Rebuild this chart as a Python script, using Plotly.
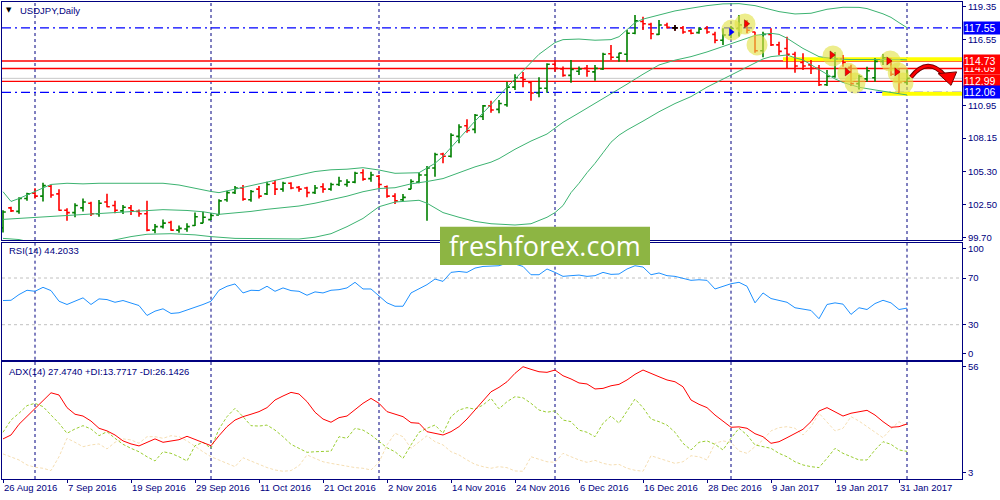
import plotly.graph_objects as go

# ---------------- data ----------------
opens = [100.5, 102.2, 101.9, 103.0, 103.45, 103.2, 104.05, 103.4, 102.0, 101.8,
         102.2, 102.6, 101.7, 102.7, 102.4, 101.95, 102.2, 101.9, 101.7, 100.3,
         100.6, 100.95, 100.3, 100.4, 100.7, 100.9, 101.2, 101.6, 102.9, 103.5,
         103.9, 102.9, 103.8, 103.4, 104.3, 103.8, 104.3, 103.95, 103.9, 103.5,
         104.0, 103.8, 104.2, 104.2, 104.4, 105.2, 104.7, 104.9, 104.0, 103.2,
         102.9, 103.8, 104.4, 105.0, 105.6, 106.8, 106.6, 108.3, 109.2, 108.9,
         110.0, 110.9, 110.6, 111.0, 112.5, 113.3, 112.9, 112.0, 112.4, 114.45,
         114.05, 113.5, 113.85, 114.1, 113.8, 114.05, 115.35, 115.05, 115.3, 117.1,
         118.1, 117.85, 117.0, 117.8, 117.55, 117.55, 117.3, 117.15, 117.5, 117.0,
         116.5, 116.95, 117.5, 117.8, 117.2, 115.6, 117.0, 116.1, 115.8, 115.3,
         114.6, 114.4, 114.1, 112.7, 113.4, 114.9, 114.2, 112.8, 113.2, 113.3,
         114.7, 114.9, 113.7, 112.9]
highs = [102.0, 102.3, 103.1, 103.5, 103.87, 104.35, 104.15, 103.8, 102.16, 102.6,
         103.0, 102.73, 102.87, 103.4, 102.8, 102.44, 102.44, 102.07, 102.8, 100.83,
         101.2, 101.1, 100.7, 100.88, 101.8, 101.87, 101.74, 102.93, 103.66, 104.06,
         104.15, 103.72, 104.06, 104.43, 104.58, 104.43, 104.38, 104.06, 104.0, 104.15,
         104.3, 104.35, 104.86, 104.64, 105.29, 105.5, 105.29, 105.0, 104.1, 103.44,
         103.38, 104.64, 105.2, 105.77, 106.9, 106.9, 108.56, 109.33, 109.76, 110.21,
         110.98, 111.34, 111.4, 112.96, 113.6, 113.8, 113.0, 113.34, 114.53, 114.8,
         114.25, 114.82, 114.25, 114.39, 114.39, 115.44, 116.1, 115.44, 117.38, 118.66,
         118.5, 118.0, 118.23, 118.0, 117.8, 117.71, 117.43, 117.6, 117.71, 117.23,
         117.52, 117.71, 118.66, 118.23, 117.23, 117.23, 117.52, 116.38, 116.8, 115.52,
         115.39, 114.82, 114.39, 113.96, 115.5, 115.24, 114.4, 113.55, 114.24, 114.96,
         115.33, 114.95, 114.1, 113.96]
lows = [100.1, 101.85, 101.7, 102.8, 103.0, 102.75, 103.07, 101.96, 101.1, 101.4,
        101.9, 101.5, 101.45, 102.25, 101.74, 101.67, 101.6, 101.45, 100.2, 100.03,
        100.45, 100.25, 100.07, 100.17, 100.65, 100.88, 101.17, 101.6, 102.73, 103.38,
        102.8, 102.73, 103.0, 103.3, 103.3, 103.58, 103.78, 103.58, 103.1, 103.38,
        103.5, 103.67, 104.06, 104.0, 104.3, 104.52, 104.43, 103.87, 103.07, 102.53,
        102.76, 103.78, 104.3, 101.1, 104.86, 106.0, 106.5, 107.71, 108.61, 108.56,
        109.7, 110.32, 110.27, 110.83, 112.26, 112.5, 111.34, 111.63, 112.03, 113.82,
        113.39, 112.88, 113.54, 113.39, 113.05, 113.96, 114.82, 114.67, 114.67, 117.0,
        117.38, 116.58, 116.95, 117.5, 117.3, 117.05, 117.0, 117.05, 117.05, 116.24,
        116.1, 116.67, 116.81, 117.09, 115.44, 115.05, 116.01, 115.24, 114.1, 113.73,
        113.96, 113.62, 112.6, 112.6, 113.3, 114.24, 112.6, 112.3, 112.96, 112.96,
        114.39, 113.45, 112.03, 112.68]
closes = [101.85, 101.95, 103.0, 103.4, 103.2, 104.1, 103.3, 102.0, 101.8, 102.4,
          102.7, 101.7, 102.6, 102.3, 102.0, 102.25, 101.95, 101.7, 100.3, 100.6,
          100.9, 100.3, 100.45, 100.6, 101.45, 101.4, 101.55, 102.8, 103.5, 103.9,
          102.95, 103.6, 103.2, 104.2, 103.8, 104.3, 103.9, 103.8, 103.5, 103.9,
          103.8, 104.2, 104.5, 104.4, 105.15, 104.65, 105.0, 104.2, 103.2, 102.8,
          103.1, 104.45, 105.0, 105.6, 106.75, 106.6, 108.4, 109.1, 108.8, 110.1,
          110.9, 110.55, 111.1, 112.5, 113.3, 113.15, 112.0, 112.4, 114.45, 114.1,
          113.5, 114.0, 114.05, 113.85, 114.1, 115.3, 115.05, 115.4, 117.1, 118.15,
          117.9, 117.05, 117.8, 117.6, 117.55, 117.2, 117.1, 117.45, 117.2, 116.5,
          116.95, 117.5, 117.8, 117.35, 115.6, 117.0, 116.1, 115.55, 115.3, 114.3,
          114.3, 114.1, 112.7, 113.4, 114.9, 114.6, 112.8, 113.4, 113.9, 114.7,
          115.0, 113.6, 112.9, 113.25]

# Bollinger bands read at selected bars (bar index, price)
bb_upper_x = [0, 1, 2, 4, 6, 8, 10, 12, 14, 16, 18, 20, 22, 24, 26, 27, 29, 31, 33, 35,
              37, 39, 41, 43, 45, 47, 49, 51, 52, 53, 54, 55, 57, 59, 61, 63, 65, 67, 69, 70,
              72, 74, 76, 77, 78, 79, 80, 82, 84, 86, 88, 90, 92, 94, 96, 97, 99, 101, 103, 105,
              107, 108, 110, 111, 112, 113]
bb_upper = [103.58, 102.75, 103.0, 103.58, 104.2, 104.3, 104.25, 104.3, 104.3, 104.35,
            104.35, 104.3, 104.15, 103.85, 103.6, 103.5, 103.8, 104.15, 104.43, 104.75,
            105.0, 105.3, 105.45, 105.5, 105.63, 105.43, 105.15, 105.15, 105.2, 105.6,
            106.0, 106.6, 108.1, 109.6, 111.0, 112.5, 113.9, 115.3, 116.3, 116.55,
            116.6, 116.5, 116.55, 116.8, 117.4, 118.0, 118.3, 118.66, 119.0, 119.23,
            119.45, 119.6, 119.62, 119.45, 119.1, 118.94, 118.74, 118.8, 119.14, 119.31,
            119.3, 119.2, 118.75, 118.45, 118.0, 117.57]
bb_mid_x = [0, 2, 4, 8, 12, 16, 20, 23, 25, 27, 29, 31, 33, 35, 37, 39, 41, 43, 45, 47,
            49, 51, 53, 55, 57, 59, 61, 62, 64, 66, 68, 69, 70, 72, 74, 76, 78, 80, 82, 84,
            86, 88, 90, 92, 94, 96, 97, 98, 99, 100, 102, 104, 106, 108, 110, 112, 113]
bb_mid = [101.22, 101.3, 101.4, 101.59, 101.72, 101.87, 102.05, 101.98, 101.87, 101.65,
          101.75, 101.9, 102.08, 102.2, 102.36, 102.6, 102.87, 103.2, 103.58, 103.85,
          103.92, 104.25, 104.45, 104.7, 105.2, 105.7, 106.1, 106.4, 107.2, 107.9,
          108.5, 109.0, 109.5, 110.3, 111.1, 111.95, 112.75, 113.6, 114.39, 114.8,
          115.1, 115.5, 115.95, 116.4, 116.9, 117.09, 117.0, 116.67, 116.2, 115.8,
          115.1, 114.9, 114.85, 114.82, 114.85, 114.85, 114.82]
bb_low_x = [0, 2, 4, 8, 12, 14, 16, 18, 21, 24, 26, 29, 33, 37, 39, 41, 43, 45, 47, 49,
            51, 52, 53, 54, 55, 57, 59, 61, 63, 64, 66, 67, 68, 69, 70, 71, 72, 73, 74, 75,
            76, 77, 78, 80, 82, 84, 86, 88, 90, 92, 93, 95, 96, 98, 99, 100, 102, 104, 105, 107,
            109, 111, 113]
bb_low = [99.6, 99.5, 99.2, 98.9, 99.2, 99.5, 99.75, 99.95, 100.0, 99.9,
          99.75, 99.6, 99.55, 99.55, 99.7, 100.0, 100.6, 101.3, 102.3, 102.7,
          102.8, 102.85, 102.6, 102.2, 101.8, 101.4, 101.05, 100.85, 100.75, 100.74,
          100.85, 101.1, 101.4, 101.8, 102.4, 103.5, 104.3, 105.2, 106.0, 106.9,
          107.8, 108.4, 108.84, 109.6, 110.4, 111.1, 111.69, 112.5, 113.2, 113.9,
          114.24, 114.9, 115.1, 115.24, 115.0, 114.82, 114.0, 113.2, 112.9, 112.49,
          112.26, 112.03, 111.83]

rsi = [50.7, 50.9, 55.8, 59.5, 58.6, 62.0, 59.2, 50.1, 47.3, 50.1,
       53.0, 47.3, 52.1, 51.5, 49.2, 50.7, 48.7, 46.4, 37.9, 41.6,
       43.6, 39.6, 40.2, 42.4, 45.0, 47.3, 50.1, 59.5, 62.9, 64.9,
       57.2, 59.5, 59.2, 62.9, 58.6, 61.5, 59.2, 58.6, 55.2, 58.1,
       57.2, 59.5, 60.0, 61.5, 66.3, 60.6, 60.6, 54.3, 48.7, 45.8,
       45.8, 57.2, 61.0, 64.3, 69.1, 67.1, 74.8, 75.6, 74.8, 78.5,
       79.9, 79.9, 80.5, 82.8, 82.0, 79.9, 72.8, 72.8, 77.7, 74.8,
       71.4, 72.0, 72.5, 71.4, 72.0, 74.8, 73.1, 73.4, 77.7, 80.5,
       79.4, 72.8, 74.3, 72.0, 71.4, 69.7, 68.0, 68.5, 68.0, 60.6,
       62.9, 65.1, 66.3, 62.9, 48.7, 57.2, 52.4, 50.7, 49.2, 44.5,
       43.6, 42.2, 35.1, 47.3, 48.7, 47.6, 38.8, 44.5, 43.0, 48.1,
       50.9, 48.7, 43.0, 44.2]

adx = [20.0, 21.95, 27.3, 31.1, 35.25, 38.9, 43.0, 41.9, 35.6, 32.3,
       31.4, 28.9, 25.3, 24.0, 21.95, 19.0, 17.5, 16.5, 18.3, 20.0,
       18.3, 19.0, 19.6, 21.3, 19.8, 18.3, 16.6, 21.6, 26.1, 29.4,
       31.1, 32.3, 33.6, 35.6, 39.4, 41.4, 43.2, 42.4, 38.6, 33.3,
       29.9, 28.3, 30.6, 31.4, 34.8, 37.75, 40.2, 37.75, 33.6, 32.4,
       31.1, 28.1, 27.8, 23.6, 22.95, 21.95, 23.6, 26.1, 29.9, 34.4,
       39.4, 43.5, 45.7, 48.5, 52.7, 56.0, 54.7, 53.5, 53.2, 54.35,
       51.5, 49.9, 47.9, 47.4, 44.9, 45.2, 46.5, 47.2, 49.4, 52.2,
       54.35, 52.5, 51.0, 49.4, 48.5, 46.0, 39.4, 37.25, 35.6, 31.9,
       28.9, 25.8, 26.0, 25.3, 22.6, 21.1, 17.8, 18.6, 20.6, 22.8,
       24.8, 28.6, 33.9, 35.6, 33.6, 31.4, 32.8, 33.6, 34.25, 31.9,
       28.6, 25.8, 26.1, 27.47]
plus_di = [23.3, 29.4, 32.8, 36.6, 37.75, 36.1, 31.9, 27.8, 22.8, 24.95,
           26.6, 24.95, 21.6, 23.6, 20.3, 17.3, 15.3, 13.6, 11.1, 9.0,
           13.6, 12.8, 11.1, 9.0, 16.6, 18.3, 15.3, 24.95, 31.1, 35.25,
           31.1, 26.6, 26.4, 26.9, 24.4, 21.1, 17.3, 15.3, 13.3, 13.6,
           13.6, 13.9, 21.1, 20.3, 25.3, 24.4, 21.95, 19.0, 15.6, 13.6,
           10.3, 17.0, 23.3, 25.3, 26.9, 22.8, 31.1, 34.4, 35.6, 34.8,
           36.9, 40.2, 35.0, 38.55, 41.05, 40.5, 37.75, 34.4, 33.3, 34.0,
           29.4, 28.6, 24.4, 23.3, 21.1, 27.8, 31.4, 27.8, 33.6, 39.9,
           35.6, 29.9, 28.6, 26.9, 23.3, 17.8, 14.5, 18.3, 19.0, 17.3,
           14.5, 20.3, 25.3, 21.95, 17.0, 16.1, 15.3, 12.8, 11.1, 8.6,
           7.0, 6.15, 5.7, 10.3, 15.3, 12.8, 11.1, 9.5, 9.5, 14.5,
           18.6, 17.3, 14.5, 13.77]
minus_di = [12.5, 11.1, 9.5, 7.0, 5.85, 5.35, 4.2, 11.1, 20.3, 18.3,
            16.1, 17.0, 17.5, 15.0, 18.3, 20.0, 19.5, 17.8, 21.1, 21.1,
            20.3, 21.6, 21.1, 19.0, 16.1, 13.6, 11.1, 9.5, 7.8, 6.15,
            10.6, 9.0, 7.3, 5.7, 4.5, 3.85, 4.2, 6.65, 12.0, 10.3,
            8.6, 7.8, 7.0, 6.15, 5.7, 5.35, 4.5, 8.3, 17.0, 22.8,
            21.1, 15.3, 18.3, 21.6, 18.6, 17.0, 13.6, 12.0, 9.5, 7.3,
            6.15, 5.35, 6.15, 5.65, 4.0, 3.85, 11.1, 9.8, 8.6, 8.3,
            12.8, 11.1, 9.5, 8.3, 9.3, 7.8, 7.0, 7.3, 5.35, 4.35,
            3.85, 11.6, 10.3, 9.0, 7.8, 8.6, 11.6, 11.1, 9.5, 17.8,
            19.0, 18.3, 14.0, 12.8, 16.1, 19.5, 24.0, 25.6, 26.1, 25.3,
            21.95, 26.1, 32.8, 28.6, 24.0, 25.3, 31.1, 28.9, 26.1, 23.6,
            20.6, 24.95, 28.6, 26.14]

date_tick_idx = [0, 8, 16, 24, 32, 40, 48, 56, 64, 72, 80, 88, 96, 104, 112]
date_tick_text = ["26 Aug 2016", "7 Sep 2016", "19 Sep 2016", "29 Sep 2016", "11 Oct 2016",
                  "21 Oct 2016", "2 Nov 2016", "14 Nov 2016", "24 Nov 2016", "6 Dec 2016",
                  "16 Dec 2016", "28 Dec 2016", "9 Jan 2017", "19 Jan 2017", "31 Jan 2017"]
month_start_idx = [4, 26, 47, 69, 91, 113]

price_tick_vals = [119.35, 116.55, 110.95, 108.15, 105.30, 102.50, 99.70]
price_tick_text = ["119.35", "116.55", "110.95", "108.15", "105.30", "102.50", "99.70"]
rsi_tick_text = ["100", "70", "30", "0"]
adx_tick_vals = [56, 3]
adx_tick_text = ["56", "3"]

red_levels = [114.73, 114.09, 112.99]
blue_levels = [117.55, 112.06]
bid_level = 113.25
label_levels = [114.09, 114.73, 112.99, 117.55, 112.06]
label_kinds = ["red", "red", "red", "blue", "blue"]

# highlight circles and trade arrows (bar index, price)
hl_x = [91.1, 92.75, 94.25, 103.75, 105.6, 106.5, 110.9, 111.9, 112.5]
hl_y = [117.38, 117.89, 116.10, 115.16, 113.71, 112.85, 114.73, 113.71, 112.85]
sell_x = [92.9, 103.6, 105.5, 110.7, 111.7]
sell_y = [117.9, 115.24, 113.8, 114.73, 113.8]
buy_x = [91.0]
buy_y = [117.2]

# ---------------- styling ----------------
NAVY = "#000080"
FONT = "Liberation Sans"
GREEN_BAR = "#008000"
RED = "#ff0000"
BAND = "#3cb371"
XR = [-0.125, 119.875]
idx = list(range(len(opens)))

fig = go.Figure()

for bx, by in [(bb_upper_x, bb_upper), (bb_mid_x, bb_mid), (bb_low_x, bb_low)]:
    fig.add_trace(go.Scatter(x=bx, y=by, mode="lines", line=dict(color=BAND, width=1),
                             hoverinfo="skip", xaxis="x", yaxis="y"))

fig.add_trace(go.Ohlc(x=idx, open=opens, high=highs, low=lows, close=closes,
                      increasing=dict(line=dict(color=GREEN_BAR, width=1.6)),
                      decreasing=dict(line=dict(color=RED, width=1.6)),
                      tickwidth=0.35, xaxis="x", yaxis="y"))
# doji bars drawn in black
dj = [i for i in idx if opens[i] == closes[i]]
fig.add_trace(go.Ohlc(x=idx,
                      open=[opens[i] if i in dj else None for i in idx],
                      high=[highs[i] if i in dj else None for i in idx],
                      low=[lows[i] if i in dj else None for i in idx],
                      close=[closes[i] if i in dj else None for i in idx],
                      increasing=dict(line=dict(color="black", width=1.6)),
                      decreasing=dict(line=dict(color="black", width=1.6)),
                      tickwidth=0.35, xaxis="x", yaxis="y"))

fig.add_trace(go.Scatter(x=hl_x, y=hl_y, mode="markers",
                         marker=dict(size=21, color="rgba(226,226,70,0.62)", line=dict(width=0)),
                         hoverinfo="skip", xaxis="x", yaxis="y"))
fig.add_trace(go.Scatter(x=sell_x, y=sell_y, mode="markers",
                         marker=dict(symbol="triangle-right", size=7, color=RED,
                                     line=dict(width=0.5, color="#800000")),
                         hoverinfo="skip", xaxis="x", yaxis="y"))
fig.add_trace(go.Scatter(x=buy_x, y=buy_y, mode="markers",
                         marker=dict(symbol="triangle-right", size=7, color="#0000ff"),
                         hoverinfo="skip", xaxis="x", yaxis="y"))

fig.add_trace(go.Scatter(x=idx, y=rsi, mode="lines", line=dict(color="#1e90ff", width=1),
                         hoverinfo="skip", xaxis="x2", yaxis="y2"))

fig.add_trace(go.Scatter(x=idx, y=minus_di, mode="lines",
                         line=dict(color="#f5deb3", width=1, dash="3px,2px"),
                         hoverinfo="skip", xaxis="x3", yaxis="y3"))
fig.add_trace(go.Scatter(x=idx, y=plus_di, mode="lines",
                         line=dict(color="#9acd32", width=1, dash="3px,2px"),
                         hoverinfo="skip", xaxis="x3", yaxis="y3"))
fig.add_trace(go.Scatter(x=idx, y=adx, mode="lines", line=dict(color=RED, width=1),
                         hoverinfo="skip", xaxis="x3", yaxis="y3"))

shapes = []
# vertical month grid (dashed navy) in every pane
for ya in ["y", "y2", "y3"]:
    xa = {"y": "x", "y2": "x2", "y3": "x3"}[ya]
    for m in month_start_idx:
        shapes.append(dict(type="line", xref=xa, yref=ya + " domain", x0=m, x1=m, y0=0, y1=1,
                           line=dict(color=NAVY, width=1, dash="3px,3px"), layer="below"))
# RSI levels
for lv in [70, 30]:
    shapes.append(dict(type="line", xref="x2 domain", yref="y2", x0=0, x1=1, y0=lv, y1=lv,
                       line=dict(color="#c0c0c0", width=1, dash="3px,3px"), layer="below"))
# horizontal price lines
shapes.append(dict(type="line", xref="x domain", yref="y", x0=0, x1=1, y0=bid_level, y1=bid_level,
                   line=dict(color="#c8c8c8", width=1), layer="below"))
for lv in red_levels:
    shapes.append(dict(type="line", xref="x domain", yref="y", x0=0, x1=1, y0=lv, y1=lv,
                       line=dict(color=RED, width=1.4), layer="below"))
for lv in blue_levels:
    shapes.append(dict(type="line", xref="x domain", yref="y", x0=0, x1=1, y0=lv, y1=lv,
                       line=dict(color="#0000ff", width=1.3, dash="9px,4px,2px,4px"), layer="below"))
# yellow marker strips
shapes.append(dict(type="line", xref="x", yref="y", x0=97.5, x1=XR[1], y0=114.88, y1=114.88,
                   line=dict(color="#ffff00", width=4), layer="below"))
shapes.append(dict(type="line", xref="x", yref="y", x0=109.9, x1=XR[1], y0=111.93, y1=111.93,
                   line=dict(color="#ffff00", width=4), layer="below"))
# curved forecast arrow
shapes.append(dict(type="path", xref="x", yref="y",
                   path="M 113.5,113.35 Q 115.6,115.2 117.75,113.45",
                   line=dict(color="#700000", width=4.5), layer="above"))
shapes.append(dict(type="path", xref="x", yref="y",
                   path="M 113.5,113.35 Q 115.6,115.2 117.75,113.45",
                   line=dict(color=RED, width=2.5), layer="above"))
shapes.append(dict(type="path", xref="x", yref="y",
                   path="M 116.9,113.65 L 119.2,113.8 L 118.5,112.65 Z",
                   fillcolor=RED, line=dict(color="#700000", width=1), layer="above"))
# watermark box
shapes.append(dict(type="rect", xref="paper", yref="paper", x0=0.45625, x1=0.675,
                   y0=0.4486, y1=0.5289, fillcolor="#8db543", line=dict(width=0), layer="above"))

annotations = []
# price labels on right axis
for lv, kind in zip(label_levels, label_kinds):
    annotations.append(dict(x=1, xref="x domain", y=lv, yref="y", xanchor="left", yanchor="middle",
                            text="%.2f" % lv, showarrow=False, align="left",
                            font=dict(family=FONT, size=10.5, color="white"),
                            bgcolor=RED if kind == "red" else "#0000ff",
                            width=36, height=12, borderpad=0, xshift=1))
annotations.append(dict(x=0.0078, xref="paper", y=0.9832, yref="paper", text="▼", showarrow=False,
                        xanchor="center", yanchor="middle", font=dict(family="DejaVu Sans", size=7, color="black")))
annotations.append(dict(x=0.0167, xref="paper", y=0.9832, yref="paper", text="USDJPY,Daily",
                        showarrow=False, xanchor="left", yanchor="middle",
                        font=dict(family=FONT, size=9.5, color=NAVY)))
annotations.append(dict(x=0.0052, xref="paper", y=0.478, yref="paper", text="RSI(14) 44.2033",
                        showarrow=False, xanchor="left", yanchor="middle",
                        font=dict(family=FONT, size=9.5, color=NAVY)))
annotations.append(dict(x=0.0052, xref="paper", y=0.2264, yref="paper",
                        text="ADX(14) 27.4740 +DI:13.7717 -DI:26.1426",
                        showarrow=False, xanchor="left", yanchor="middle",
                        font=dict(family=FONT, size=9.5, color=NAVY)))
annotations.append(dict(x=0.5656, xref="paper", y=0.4885, yref="paper", text="freshforex.com",
                        showarrow=False, xanchor="center", yanchor="middle",
                        font=dict(family="Open Sans", size=27, color="white")))

axis_common = dict(showgrid=False, zeroline=False, showline=True, mirror=True,
                   linecolor=NAVY, linewidth=1)
tickfont = dict(family=FONT, size=9.5, color=NAVY)

fig.update_layout(
    width=1000, height=500,
    margin=dict(l=2, r=38, t=2, b=21, pad=0),
    paper_bgcolor="white", plot_bgcolor="white", showlegend=False,
    xaxis=dict(domain=[0, 1], anchor="y", range=XR, showticklabels=False, ticks="",
               rangeslider=dict(visible=False), **axis_common),
    xaxis2=dict(domain=[0, 1], anchor="y2", range=XR, showticklabels=False, ticks="",
                rangeslider=dict(visible=False), **axis_common),
    xaxis3=dict(domain=[0, 1], anchor="y3", range=XR, tickmode="array", tickvals=date_tick_idx,
                ticktext=date_tick_text, ticks="outside", ticklen=3, tickcolor=NAVY,
                ticklabelposition="outside right", tickfont=tickfont,
                rangeslider=dict(visible=False), **axis_common),
    yaxis=dict(domain=[0.501, 1], anchor="x", side="right", range=[99.46, 119.76],
               tickmode="array", tickvals=price_tick_vals, ticktext=price_tick_text,
               ticks="outside", ticklen=3, tickcolor=NAVY, tickfont=tickfont, **axis_common),
    yaxis2=dict(domain=[0.2501, 0.4948], anchor="x2", side="right", range=[0, 100],
                tickmode="array", tickvals=[95, 70, 30, 5], ticktext=rsi_tick_text,
                ticks="outside", ticklen=3, tickcolor=NAVY, tickfont=tickfont, **axis_common),
    yaxis3=dict(domain=[0, 0.2459], anchor="x3", side="right", range=[0, 58.5],
                tickmode="array", tickvals=adx_tick_vals, ticktext=adx_tick_text,
                ticks="outside", ticklen=3, tickcolor=NAVY, tickfont=tickfont, **axis_common),
    shapes=shapes, annotations=annotations,
)

fig.write_html("out.html", config={"displayModeBar": False},
               post_script="document.body.style.margin='0';")
